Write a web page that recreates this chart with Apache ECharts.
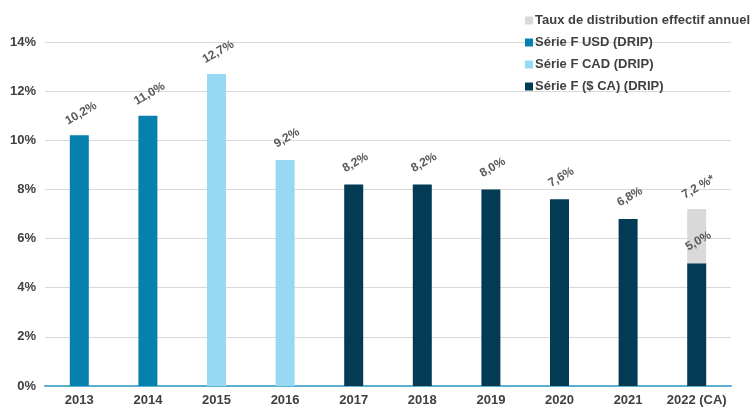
<!DOCTYPE html>
<html><head><meta charset="utf-8">
<script src="https://cdn.jsdelivr.net/npm/echarts@6/dist/echarts.min.js"></script>
<style>html,body{margin:0;padding:0;background:#fff}#c{width:753px;height:407px}</style>
</head><body><div id="c"></div>
<script>
const categories = ['2013','2014','2015','2016','2017','2018','2019','2020','2021','2022 (CA)'];
const usdValues = [10.2, 11.0, null, null, null, null, null, null, null, null];
const cadValues = [null, null, 12.7, 9.2, null, null, null, null, null, null];
const caValues  = [null, null, null, null, 8.2, 8.2, 8.0, 7.6, 6.8, 5.0];
const tauxValues = [null, null, null, null, null, null, null, null, null, 2.2];
const tauxLabels = ['', '', '', '', '', '', '', '', '', '7,2 %*'];
const yTicks = [0, 2, 4, 6, 8, 10, 12, 14];
const seriesNames = ['Taux de distribution effectif annuel', 'Série F USD (DRIP)', 'Série F CAD (DRIP)', 'Série F ($ CA) (DRIP)'];

const font = 'Liberation Sans, Arial, sans-serif';
const fmt = v => v.toFixed(1).replace('.', ',') + '%';
const lbl = {
  show: true, position: 'top', distance: 21, rotate: 30,
  align: 'center', verticalAlign: 'middle', offset: [2, 0],
  color: '#595959', fontFamily: font, fontWeight: 'bold', fontSize: 12,
  formatter: p => p.value == null ? '' : fmt(p.value)
};
function toData(arr){ return arr.map(v => v == null ? '-' : v); }

const chart = echarts.init(document.getElementById('c'), null, {renderer: 'canvas'});
chart.setOption({
  animation: false,
  backgroundColor: '#fff',
  grid: {left: 45, right: 22, top: 42, bottom: 21, containLabel: false},
  legend: {
    data: seriesNames, orient: 'vertical', left: 520, top: 9,
    itemWidth: 8, itemHeight: 8, itemGap: 9, icon: 'rect',
    textStyle: {color: '#404040', fontFamily: font, fontWeight: 'bold', fontSize: 13, padding: [0,0,0,-3]}
  },
  xAxis: {
    type: 'category', data: categories,
    axisLine: {lineStyle: {color: '#5bb0d0', width: 2}},
    axisTick: {show: false},
    axisLabel: {color: '#404040', fontFamily: font, fontWeight: 'bold', fontSize: 13, margin: 8, interval: 0}
  },
  yAxis: {
    type: 'value', min: yTicks[0], max: yTicks[yTicks.length-1], interval: 2,
    axisLine: {show: false}, axisTick: {show: false},
    splitLine: {lineStyle: {color: '#d9d9d9', width: 1}},
    axisLabel: {color: '#404040', fontFamily: font, fontWeight: 'bold', fontSize: 13, margin: 9, formatter: v => v + '%'}
  },
  series: [
    {name: seriesNames[1], type: 'bar', stack: 's', barWidth: 19, data: toData(usdValues), itemStyle: {color: '#0681ae'}, label: lbl},
    {name: seriesNames[2], type: 'bar', stack: 's', barWidth: 19, data: toData(cadValues), itemStyle: {color: '#97d9f3'}, label: lbl},
    {name: seriesNames[3], type: 'bar', stack: 's', barWidth: 19, data: toData(caValues), itemStyle: {color: '#033b54'}, label: lbl},
    {name: seriesNames[0], type: 'bar', stack: 's', barWidth: 19, data: toData(tauxValues), itemStyle: {color: '#d9d9d9'},
      label: Object.assign({}, lbl, {formatter: p => tauxLabels[p.dataIndex]})}
  ]
});
</script></body></html>
